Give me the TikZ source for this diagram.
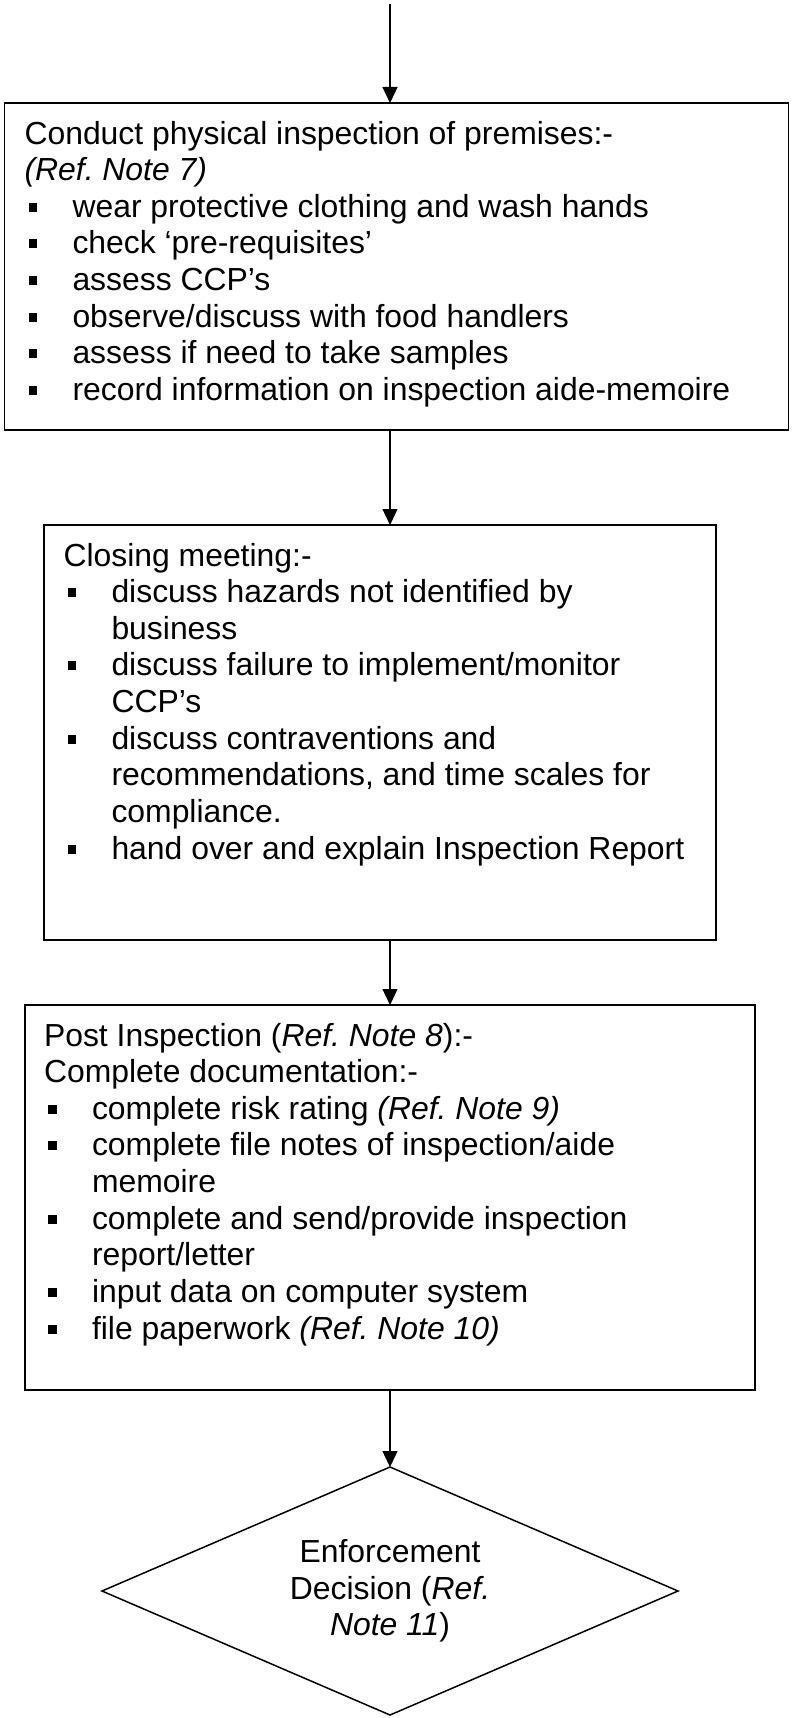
\documentclass[tikz,border=0pt]{standalone}
\usepackage{fontspec}
\setmainfont{Liberation Sans}
\usetikzlibrary{arrows.meta,shapes.geometric}
\newlength{\hangw}\setlength{\hangw}{48pt}
\newcommand{\bitem}[1]{\par\noindent\hangindent=\hangw\hangafter=1\makebox[\hangw][l]{\hspace{4pt}\rule[5.5pt]{8.5pt}{9pt}}#1}
\newcommand{\boxfont}{\fontsize{31.9pt}{36.65pt}\selectfont\frenchspacing\lineskiplimit=-30pt\relax}
\begin{document}
\begin{tikzpicture}[x=1pt,y=-1pt,
  frame/.style={draw=black,line width=1.6pt,rectangle,inner sep=0pt,outer sep=0pt,anchor=north west},
  txt/.style={inner sep=0pt,outer sep=0pt,anchor=base west},
  arr/.style={line width=1.3pt,-{Triangle[width=15pt,length=16pt]}},
  decision/.style={draw=black,line width=1.5pt,shape=diamond,inner sep=0pt,outer sep=0pt,
     minimum width=576pt,minimum height=248pt,aspect=2.32,align=center,font=\boxfont}]
\useasboundingbox[fill=white] (0,0) rectangle (793,1718);

\node[frame,minimum width=784pt,minimum height=327pt] (b1) at (4.5,103) {};
\node[txt] (t1) at (24.5,144) {\parbox[t]{760pt}{\boxfont
Conduct physical inspection of premises:-\\
\textit{(Ref. Note 7)}
\bitem{wear protective clothing and wash hands}
\bitem{check ‘pre-requisites’}
\bitem{assess CCP’s}
\bitem{observe/discuss with food handlers}
\bitem{assess if need to take samples}
\bitem{record information on inspection aide-memoire}}};

\node[frame,minimum width=672pt,minimum height=415pt] (b2) at (44,525) {};
\node[txt] (t2) at (63.5,566) {\parbox[t]{700pt}{\boxfont
Closing meeting:-
\bitem{discuss hazards not identified by\\business}
\bitem{discuss failure to implement/monitor\\CCP’s}
\bitem{discuss contraventions and\\recommendations, and time scales for\\compliance.}
\bitem{hand over and explain Inspection Report}}};

\node[frame,minimum width=730pt,minimum height=385pt] (b3) at (25,1005) {};
\node[txt] (t3) at (44,1046) {\parbox[t]{720pt}{\boxfont
Post Inspection (\textit{Ref. Note 8}):-\\
Complete documentation:-
\bitem{complete risk rating \textit{(Ref. Note 9)}}
\bitem{complete file notes of inspection/aide\\memoire}
\bitem{complete and send/provide inspection\\report/letter}
\bitem{input data on computer system}
\bitem{file paperwork \textit{(Ref. Note 10)}}}};

\node[decision] (d) at (390,1591) {Enforcement\\Decision (\textit{Ref.}\\\textit{Note 11})};

\coordinate (s) at (390,4);
\draw[arr] (s) -- (s |- b1.north);
\draw[arr] (s |- b1.south) -- (s |- b2.north);
\draw[arr] (s |- b2.south) -- (s |- b3.north);
\draw[arr] (s |- b3.south) -- (d.north);
\end{tikzpicture}
\end{document}
